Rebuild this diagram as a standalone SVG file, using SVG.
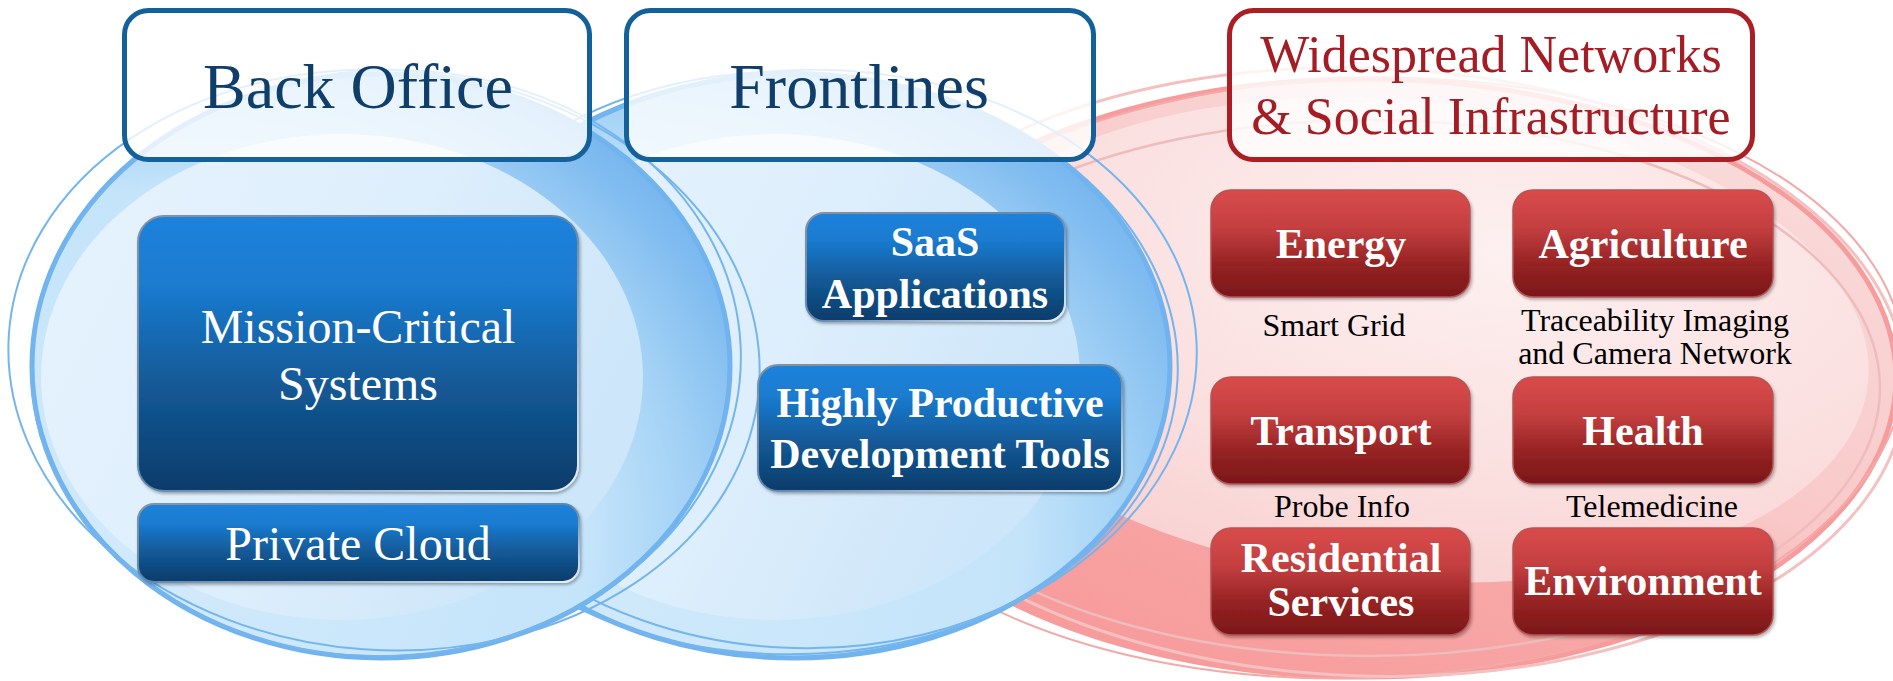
<svg xmlns="http://www.w3.org/2000/svg" width="1893" height="681" viewBox="0 0 1893 681">
<style>
.hdr{font-family:"Liberation Serif","Times New Roman",serif;text-anchor:middle}
.hb{fill:#0f3e6b;font-size:64px}
.hr{fill:#a51d24;font-size:52px}
.bt{font-family:"Liberation Serif","Times New Roman",serif;fill:#fff;text-anchor:middle}
.reg{font-size:48px}
.bold{font-size:42px;font-weight:bold}
.lab{font-family:"Liberation Serif","Times New Roman",serif;fill:#000;font-size:32px;text-anchor:middle}
.bbox{fill:url(#gBlue);stroke:url(#gBStroke);stroke-width:2;filter:url(#sh)}
.rbox{fill:url(#gRed);stroke:#b45454;stroke-width:1.5;filter:url(#sh)}
.hbox{fill:#fff;fill-opacity:0.8;stroke-width:5}
.thinB{fill:none;stroke:#74b5ee;stroke-width:2}
.thinR{fill:none;stroke:#f4a9a9;stroke-width:2}
</style>
<defs>
<linearGradient id="gBlue" x1="0" y1="0" x2="0" y2="1">
<stop offset="0" stop-color="#1b82dc"/><stop offset="0.25" stop-color="#1a7bd0"/><stop offset="0.6" stop-color="#135a98"/><stop offset="1" stop-color="#0c3c6a"/>
</linearGradient>
<linearGradient id="gBStroke" x1="0" y1="0" x2="1" y2="1">
<stop offset="0" stop-color="#8a939c"/><stop offset="0.5" stop-color="#5f86ad"/><stop offset="1" stop-color="#e8f2fb"/>
</linearGradient>
<linearGradient id="gRed" x1="0" y1="0" x2="0" y2="1">
<stop offset="0" stop-color="#da4b4b"/><stop offset="0.35" stop-color="#c43f40"/><stop offset="0.7" stop-color="#952222"/><stop offset="1" stop-color="#7b1719"/>
</linearGradient>
<radialGradient id="gOutB" cx="0.2" cy="0.8" r="1">
<stop offset="0" stop-color="#d2eafb"/><stop offset="0.6" stop-color="#c4e4fa"/><stop offset="0.75" stop-color="#a2d1f5"/><stop offset="0.88" stop-color="#80bcf0"/><stop offset="1" stop-color="#6aaeed"/>
</radialGradient>
<linearGradient id="gInB" x1="0" y1="0" x2="1" y2="0.4">
<stop offset="0" stop-color="#e6f3fd"/><stop offset="0.6" stop-color="#ddeefc"/><stop offset="1" stop-color="#cde6f9"/>
</linearGradient>
<linearGradient id="gOutR" x1="0.85" y1="0.1" x2="0.2" y2="0.95">
<stop offset="0" stop-color="#f9dada"/><stop offset="0.45" stop-color="#f9c8c8"/><stop offset="0.65" stop-color="#f8a8a8"/><stop offset="1" stop-color="#f79a9a"/>
</linearGradient>
<radialGradient id="gInR" cx="0.6" cy="0.3" r="0.75">
<stop offset="0" stop-color="#fdf0f0"/><stop offset="0.6" stop-color="#fbe0e0"/><stop offset="1" stop-color="#f9d2d2"/>
</radialGradient>
<filter id="sh" x="-5%" y="-5%" width="112%" height="115%">
<feDropShadow dx="1.5" dy="2" stdDeviation="1.5" flood-color="#000" flood-opacity="0.3"/>
</filter>
</defs>

<g id="ellipse-red">
<ellipse cx="1363" cy="378" rx="533" ry="299" fill="url(#gOutR)" stroke="#f79c9c" stroke-width="5"/>
<ellipse cx="1400" cy="340" rx="470" ry="240" fill="url(#gInR)" transform="rotate(5 1400 340)"/>
<ellipse cx="1368" cy="388" rx="512" ry="268" fill="none" stroke="#eebcbc" stroke-width="2.5"/>
<ellipse class="thinR" cx="1360" cy="378" rx="545" ry="300" transform="rotate(-2 1360 378)"/>
<ellipse cx="1366" cy="372" rx="540" ry="304" fill="none" stroke="#f5c0c0" stroke-width="3" transform="rotate(2 1366 372)"/>
</g>

<g id="ellipse-frontlines">
<ellipse cx="794" cy="366" rx="376" ry="292" fill="url(#gOutB)" stroke="#70b3ee" stroke-width="5"/>
<ellipse cx="775" cy="377" rx="305" ry="243" fill="url(#gInB)"/>
<ellipse class="thinB" cx="802" cy="362" rx="395" ry="292" transform="rotate(-3 802 362)"/>
<ellipse class="thinB" cx="796" cy="360" rx="382" ry="288" transform="rotate(3 796 360)"/>
</g>

<g id="ellipse-backoffice">
<ellipse cx="381" cy="366" rx="349" ry="292" fill="url(#gOutB)" stroke="#70b3ee" stroke-width="5"/>
<ellipse cx="342" cy="377" rx="301" ry="243" fill="url(#gInB)"/>
<ellipse class="thinB" cx="384" cy="360" rx="376" ry="290" transform="rotate(4 384 360)"/>
<ellipse class="thinB" cx="386" cy="363" rx="355" ry="293" transform="rotate(-3 386 363)"/>
</g>

<g id="hdr-backoffice">
<rect class="hbox" x="124.5" y="10.5" width="465" height="149" rx="24" stroke="#14609a"/>
<text class="hdr hb" x="358" y="108">Back Office</text>
</g>
<g id="hdr-frontlines">
<rect class="hbox" x="626.5" y="10.5" width="467" height="149" rx="24" stroke="#14609a"/>
<text class="hdr hb" x="859" y="108">Frontlines</text>
</g>
<g id="hdr-widespread">
<rect class="hbox" x="1229.5" y="10.5" width="523" height="149" rx="24" stroke="#ab1f24"/>
<text class="hdr hr" x="1491" y="72">Widespread Networks</text>
<text class="hdr hr" x="1491" y="134">&amp; Social Infrastructure</text>
</g>

<g id="node-mission">
<rect class="bbox" x="138" y="216" width="440" height="275" rx="26"/>
<text class="bt reg" x="358" y="343">Mission-Critical</text>
<text class="bt reg" x="358" y="400">Systems</text>
</g>
<g id="node-private">
<rect class="bbox" x="138" y="504" width="441" height="78" rx="16"/>
<text class="bt reg" x="358" y="560">Private Cloud</text>
</g>
<g id="node-saas">
<rect class="bbox" x="806" y="213" width="259" height="108" rx="18"/>
<text class="bt bold" x="935" y="256">SaaS</text>
<text class="bt bold" x="935" y="308">Applications</text>
</g>
<g id="node-devtools">
<rect class="bbox" x="758" y="365" width="364" height="126" rx="20"/>
<text class="bt bold" x="940" y="417">Highly Productive</text>
<text class="bt bold" x="940" y="468">Development Tools</text>
</g>

<g id="node-energy">
<rect class="rbox" x="1211" y="190" width="259" height="107" rx="20"/>
<text class="bt bold" x="1341" y="258">Energy</text>
</g>
<g id="node-agriculture">
<rect class="rbox" x="1513" y="190" width="260" height="107" rx="20"/>
<text class="bt bold" x="1643" y="258">Agriculture</text>
</g>
<g id="node-transport">
<rect class="rbox" x="1211" y="377" width="259" height="107" rx="20"/>
<text class="bt bold" x="1341" y="445">Transport</text>
</g>
<g id="node-health">
<rect class="rbox" x="1513" y="377" width="260" height="107" rx="20"/>
<text class="bt bold" x="1643" y="445">Health</text>
</g>
<g id="node-residential">
<rect class="rbox" x="1211" y="528" width="259" height="107" rx="20"/>
<text class="bt bold" x="1341" y="572">Residential</text>
<text class="bt bold" x="1341" y="616">Services</text>
</g>
<g id="node-environment">
<rect class="rbox" x="1513" y="528" width="260" height="107" rx="20"/>
<text class="bt bold" x="1643" y="595">Environment</text>
</g>

<g id="labels">
<text class="lab" x="1334" y="336">Smart Grid</text>
<text class="lab" x="1655" y="331">Traceability Imaging</text>
<text class="lab" x="1655" y="364">and Camera Network</text>
<text class="lab" x="1342" y="517">Probe Info</text>
<text class="lab" x="1652" y="517">Telemedicine</text>
</g>
<g id="connectors"></g>
</svg>
